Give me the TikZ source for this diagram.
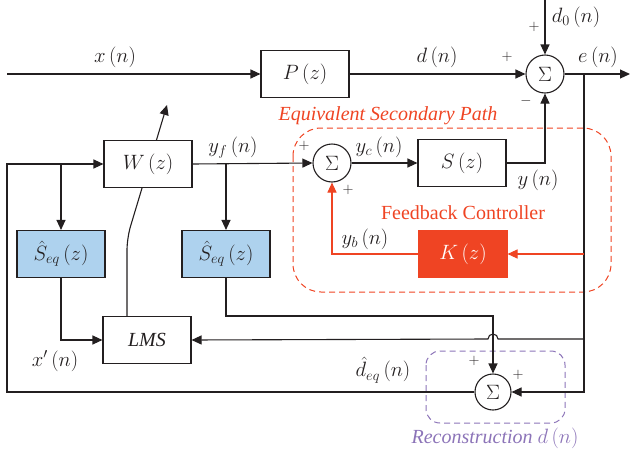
\documentclass[tikz,border=0pt]{standalone}
\usepackage{fontspec}
\setmainfont{Liberation Serif}
\usetikzlibrary{arrows.meta}
\definecolor{myred}{HTML}{EF4423}
\definecolor{myblue}{HTML}{AED2EE}
\definecolor{mypurple}{HTML}{8C74B8}
\definecolor{ink}{HTML}{231F20}
\begin{document}
\begin{tikzpicture}[x=1pt,y=-1pt,line width=1.1pt,
  >={Triangle[length=10pt,width=9pt]},
  font=\fontsize{20}{23}\selectfont,
  blk/.style={draw=ink,fill=white,minimum width=88pt,minimum height=47pt,inner sep=0pt,text=ink},
  sumnode/.style={circle,draw=ink,fill=white,minimum size=38pt,inner sep=0pt,text=ink},
  lbl/.style={inner sep=0pt,text=ink},
  sgn/.style={inner sep=0pt,text=ink,font=\fontsize{15}{17}\selectfont},
  wire/.style={draw=ink,line width=1.1pt}]
\useasboundingbox (0,0) rectangle (630,453);

% dashed groups
\draw[myred,line width=1pt,dash pattern=on 6pt off 4pt,rounded corners=28pt] (293,128) rectangle (611,292);
\draw[mypurple,line width=1pt,dash pattern=on 6pt off 4pt,rounded corners=14pt] (426,351) rectangle (565,423);

% coordinates
\coordinate (xin) at (7,74);
\coordinate (d0) at (545,0);
\coordinate (eout) at (630,74);
\coordinate (etap) at (584,74);
\coordinate (ebot) at (584,392);
\coordinate (ktap) at (584,254);
\coordinate (ltap) at (584,339);
\coordinate (hopR) at (498,339);
\coordinate (lb) at (7,392);
\coordinate (lt) at (7,164);
\coordinate (xb) at (61,164);
\coordinate (yfb) at (226,164);
\coordinate (sqc) at (493,316);
\coordinate (a1) at (127,316);
\coordinate (a2) at (127,238);
\coordinate (a3) at (167,105);

% adaptation arrow (behind W)
\draw[wire,->,rounded corners=12pt] (a1) -- (a2) -- (a3);

% blocks
\node[blk] (P) at (305,74) {$P\,(z)$};
\node[sumnode] (s1) at (545,74) {$\Sigma$};
\node[blk] (W) at (148,164) {$W\,(z)$};
\node[sumnode] (s2) at (332,163) {$\Sigma$};
\node[blk] (S) at (462,163) {$S\,(z)$};
\node[blk,fill=myblue] (Sq1) at (61,254) {$\hat{S}_{eq}\,(z)$};
\node[blk,fill=myblue] (Sq2) at (226,254) {$\hat{S}_{eq}\,(z)$};
\node[blk,fill=myred,draw=myred,text=white] (K) at (463,254) {$K\,(z)$};
\node[blk] (L) at (147,340) {$\mathit{LMS}$};
\node[sumnode,minimum size=36pt] (s3) at (493,392) {$\Sigma$};

% connectors
\draw[wire,->] (xin) -- (P.west);
\draw[wire,->] (P.east) -- (s1.west);
\draw[wire,->] (d0) -- (s1.north);
\draw[wire,->] (s1.east) -- (eout);
\draw[wire,->] (etap) -- (ebot) -- (s3.east);
\draw[wire,->] (S.east) -| (s1.south);
\draw[wire,->] (W.east) -- (s2.west);
\draw[wire,->] (s2.east) -- (S.west);
\draw[wire,->] (yfb) -- (Sq2.north);
\draw[wire,->] (s3.west) -- (lb) -- (lt) -- (W.west);
\draw[wire,->] (xb) -- (Sq1.north);
\draw[wire,->] (Sq1.south) |- (L.west);
\draw[wire,->] (Sq2.south) |- (sqc) -- (s3.north);
\draw[wire,->] (ltap) -- (hopR) arc[start angle=0,end angle=180,radius=5pt] -- (L.east);
\draw[myred,line width=1.1pt,->] (ktap) -- (K.east);
\draw[myred,line width=1.1pt,->] (K.west) -| (s2.south);

% labels
\node[lbl] (lx) at (115,57) {$x\,(n)$};
\node[lbl] (ld) at (437,57) {$d\,(n)$};
\node[sgn] (p1) at (507,57) {$+$};
\node[sgn] (p2) at (534,27) {$+$};
\node[lbl] (ld0) at (576,17) {$d_0\,(n)$};
\node[lbl] (le) at (598,57) {$e\,(n)$};
\node[sgn] (m1) at (526,101) {$-$};
\node[lbl,text=myred,font=\fontsize{20}{23}\selectfont\itshape] (esp) at (388,116) {Equivalent Secondary Path};
\node[lbl] (lyf) at (233,148) {$y_f\,(n)$};
\node[sgn] (p3) at (304,146) {$+$};
\node[lbl] (lyc) at (379,147) {$y_c\,(n)$};
\node[sgn] (p4) at (348,190) {$+$};
\node[lbl] (ly) at (538,180) {$y\,(n)$};
\node[lbl,text=myred] (fbc) at (463,213) {Feedback Controller};
\node[lbl] (lyb) at (365,239) {$y_b\,(n)$};
\node[lbl] (lxp) at (55,361) {$x'\,(n)$};
\node[lbl] (ldeq) at (383,370) {$\hat{d}_{eq}\,(n)$};
\node[sgn] (p5) at (474,361) {$+$};
\node[sgn] (p6) at (518,375) {$+$};
\node[lbl,text=mypurple,font=\fontsize{20}{23}\selectfont\itshape] (rec) at (495,438) {Reconstruction $d\,(n)$};
\end{tikzpicture}
\end{document}
